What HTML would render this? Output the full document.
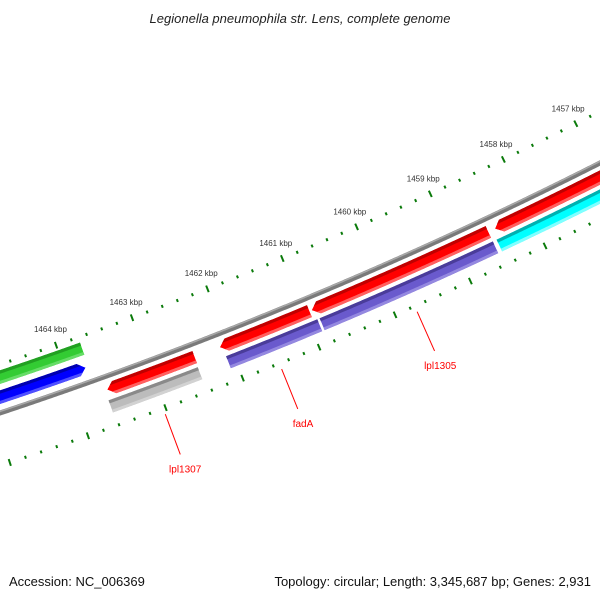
<!DOCTYPE html>
<html><head><meta charset="utf-8"><style>
html,body{margin:0;padding:0;background:#fff}
svg{display:block}
</style></head><body>
<svg id="map" width="600" height="600" viewBox="0 0 600 600" xmlns="http://www.w3.org/2000/svg" font-family="Liberation Sans, DejaVu Sans, sans-serif">
<rect width="600" height="600" fill="#fff"/>
<text x="300" y="23" text-anchor="middle" font-size="13" font-style="italic" fill="#222">Legionella pneumophila str. Lens, complete genome</text>
<g id="ticks"></g>
<g id="backbone"></g>
<g id="feats"></g>
<g id="labels"></g>
<text x="9" y="586" font-size="13" fill="#111">Accession: NC_006369</text>
<text x="591" y="586" text-anchor="end" font-size="13" fill="#111">Topology: circular; Length: 3,345,687 bp; Genes: 2,931</text>
</svg>
<script>
// data (kbp)
const featStart = [1463.59, 1463.62, 1462.12, 1462.09, 1460.91, 1460.86, 1458.46, 1458.50, 1466.5, 1466.5];
const featEnd   = [1462.45, 1462.46, 1460.94, 1460.89, 1458.55, 1458.55, 1455.5, 1455.5, 1463.71, 1463.75];
const featTrack = [1, 2, 1, 2, 1, 2, 1, 2, -2, -1];
const featArrow = ['left','none','left','none','left','none','left','none','none','right'];
const featColor = ['red','gray','red','purple','red','purple','red','cyan','green','blue'];
const featName  = ['lpl1307-forward','lpl1307-cds','fada-forward','fada-cds','lpl1305-forward','lpl1305-cds','next-gene-forward','next-gene-cds','prev-gene-forward','prev-gene-reverse'];
const tickLabelKbp = [1457, 1458, 1459, 1460, 1461, 1462, 1463, 1464];
const labelNames = ['lpl1307', 'fadA', 'lpl1305'];
const labelKbp   = [1463.03, 1461.52, 1459.74];

const cx = -1390, cy = -3768;
const NS = 'http://www.w3.org/2000/svg';
function ang(k){ return (70.63 - (1464 - k) * 1.0614) * Math.PI / 180; }
function pt(k, r){ const a = ang(k); return [cx + r*Math.cos(a), cy + r*Math.sin(a)]; }
function mk(tag, attrs, parent){ const e = document.createElementNS(NS, tag); for (const a in attrs) e.setAttribute(a, attrs[a]); parent.appendChild(e); return e; }
function arcPts(k1, k2, r){ const out=[]; const n=Math.max(2, Math.ceil(Math.abs(k1-k2)/0.02)); for(let i=0;i<=n;i++){ out.push(pt(k1+(k2-k1)*i/n, r)); } return out; }
const colors = {
  red:['#c00000','#ff0000','#ff6060'], gray:['#8a8a8a','#bcbcbc','#d2d2d2'],
  purple:['#4a3c9a','#6a5acd','#9488e0'], cyan:['#00b0b0','#00ffff','#80ffff'],
  green:['#22a022','#33cc33','#66dd66'], blue:['#0000b0','#0000ff','#5050ff']
};
const trackR = {1:4419, 2:4436, '-1':4391, '-2':4372};
const HW = 6.5, AH = 0.09;

// ticks
const tg = document.getElementById('ticks');
for (let i = 0; i <= 60; i++) {
  const k = 1455 + i * 0.2;
  const major = (i % 5 === 0);
  [[4360],[4456]].forEach(([r]) => {
    const L = major ? 3.5 : 1.5;
    const a = pt(k, r - L), b = pt(k, r + L);
    const t = mk('line', {x1:a[0], y1:a[1], x2:b[0], y2:b[1], stroke:'#0a7a0a', 'stroke-width': major ? 2 : 2}, tg);
    
    
  });
}
tickLabelKbp.forEach(k => {
  const p = pt(k, 4343);
  const t = mk('text', {x:p[0], y:p[1]+3, 'text-anchor':'middle', 'font-size':'8', fill:'#333'}, tg);
  t.textContent = k + ' kbp';
  
  
});

// backbone
const bb = document.getElementById('backbone');
function arcPath(k1,k2,r){ return arcPts(k1,k2,r).map((p,i)=>(i?'L':'M')+p[0].toFixed(2)+' '+p[1].toFixed(2)).join(''); }
mk('path', {d:arcPath(1467,1454,4406), fill:'none', stroke:'#7a7a7a', 'stroke-width':5}, bb);
mk('path', {d:arcPath(1467,1454,4404.5), fill:'none', stroke:'#a8a8a8', 'stroke-width':1.5}, bb);

// features
const fg = document.getElementById('feats');
const defs = mk('defs', {}, fg);
featStart.forEach((ks, i) => {
  const ke = featEnd[i];
  const rc = trackR[featTrack[i]];
  const ri = rc - HW, ro = rc + HW;
  let pts;
  if (featArrow[i] === 'left') {
    pts = [pt(ks, rc)].concat(arcPts(ks - AH, ke, ri), arcPts(ke, ks - AH, ro));
  } else if (featArrow[i] === 'right') {
    pts = arcPts(ks, ke + AH, ri).concat([pt(ke, rc)], arcPts(ke + AH, ks, ro));
  } else {
    pts = arcPts(ks, ke, ri).concat(arcPts(ke, ks, ro));
  }
  const d = pts.map((p,j)=>(j?'L':'M')+p[0].toFixed(2)+' '+p[1].toFixed(2)).join('') + 'Z';
  const cp = mk('clipPath', {id:'cp'+i}, defs);
  mk('path', {d:d}, cp);
  const g = mk('g', {'clip-path':'url(#cp'+i+')'}, fg);
  
  
  const c = colors[featColor[i]];
  mk('path', {d:d, fill:c[1]}, g);
  mk('path', {d:arcPath(ks+0.2, ke-0.2, ri+1.5), fill:'none', stroke:c[0], 'stroke-width':3.5}, g);
  mk('path', {d:arcPath(ks+0.2, ke-0.2, ro-1.5), fill:'none', stroke:c[2], 'stroke-width':3}, g);
});

// labels
const lg = document.getElementById('labels');
labelNames.forEach((n, i) => {
  const a = pt(labelKbp[i], 4462), b = pt(labelKbp[i], 4505), t = pt(labelKbp[i], 4519);
  const l = mk('line', {x1:a[0], y1:a[1], x2:b[0], y2:b[1], stroke:'#ff0000', 'stroke-width':1}, lg);
  
  
  const tx = mk('text', {x:t[0], y:t[1]+5, 'text-anchor':'middle', 'font-size':'10', fill:'#ff0000'}, lg);
  tx.textContent = n;
  
  
});
</script>
</body></html>
